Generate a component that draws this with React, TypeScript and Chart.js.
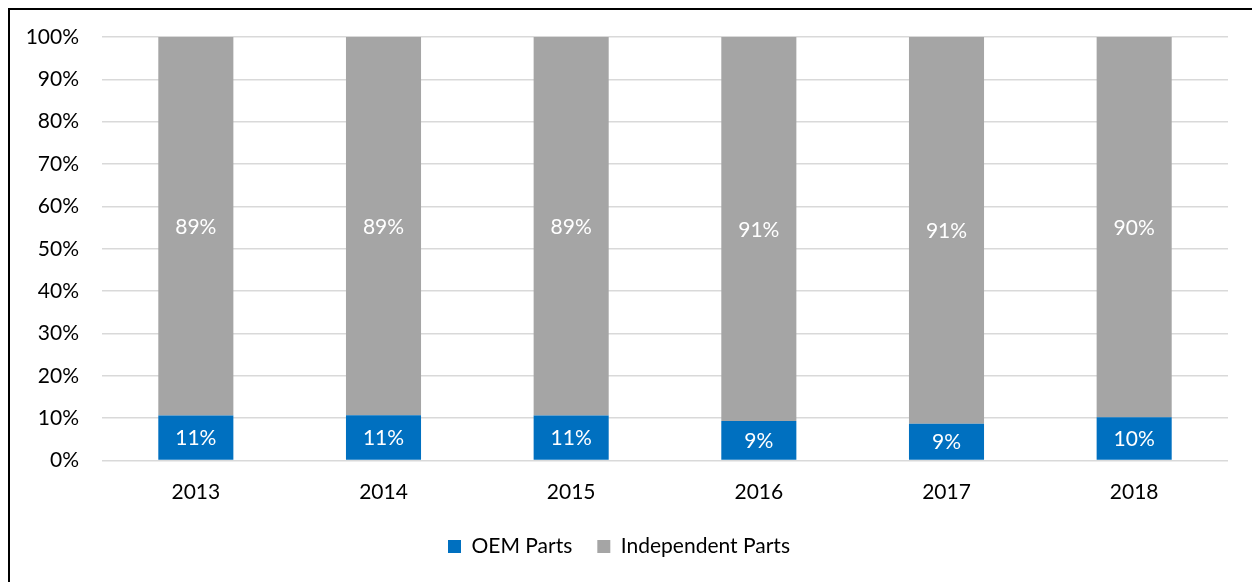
import React, { useEffect, useRef } from "react";
import { Chart, registerables } from "chart.js";

Chart.register(...registerables);

const years = ["2013", "2014", "2015", "2016", "2017", "2018"];
const oemParts = [10.6, 10.7, 10.6, 9.3, 8.7, 10.2];
const independentParts = [89.4, 89.3, 89.4, 90.7, 91.3, 89.8];
const yTicks = [0, 10, 20, 30, 40, 50, 60, 70, 80, 90, 100];

const FONT = "Lato, 'Open Sans', sans-serif";

const barLabels = {
  id: "barLabels",
  afterDatasetsDraw(chart: any) {
    const ctx = chart.ctx;
    ctx.save();
    ctx.font = `21px ${FONT}`;
    ctx.fillStyle = "#ffffff";
    ctx.textAlign = "center";
    ctx.textBaseline = "middle";
    chart.data.datasets.forEach((ds: any, di: number) => {
      const meta = chart.getDatasetMeta(di);
      meta.data.forEach((el: any, i: number) => {
        const v = ds.data[i];
        const p = el.getProps(["x", "y", "base"], true);
        ctx.fillText(Math.round(v) + "%", p.x, (p.y + p.base) / 2 + 1);
      });
    });
    ctx.restore();
  },
};

export default function App() {
  const ref = useRef<HTMLCanvasElement>(null);
  useEffect(() => {
    if (!ref.current) return;
    const chart = new Chart(ref.current, {
      type: "bar",
      data: {
        labels: years,
        datasets: [
          {
            label: "OEM Parts",
            data: oemParts,
            backgroundColor: "#0070C0",
            barPercentage: 0.4,
            categoryPercentage: 1,
          },
          {
            label: "Independent Parts",
            data: independentParts,
            backgroundColor: "#A5A5A5",
            barPercentage: 0.4,
            categoryPercentage: 1,
          },
        ],
      },
      options: {
        animation: false,
        responsive: false,
        maintainAspectRatio: false,
        layout: { padding: { left: 10, right: 24, top: 37, bottom: 15 } },
        plugins: {
          legend: {
            position: "bottom",
            labels: {
              boxWidth: 13,
              boxHeight: 13,
              padding: 25,
              color: "#000",
              font: { family: FONT, size: 21 },
            },
          },
          tooltip: { enabled: false },
        },
        scales: {
          x: {
            stacked: true,
            grid: { display: false, drawTicks: false },
            border: { display: false },
            ticks: { color: "#000", padding: 19, font: { family: FONT, size: 21 } },
            afterFit: (s: any) => {
              s.height = 50.5;
            },
          },
          y: {
            stacked: true,
            min: 0,
            max: 100,
            afterBuildTicks: (s: any) => {
              s.ticks = yTicks.map((v) => ({ value: v }));
            },
            grid: { color: "#d9d9d9", lineWidth: 1.5, drawTicks: false },
            border: { display: false },
            ticks: {
              color: "#000",
              padding: 23,
              font: { family: FONT, size: 21 },
              callback: (v: any) => v + "%",
            },
            afterFit: (s: any) => {
              s.width = 92;
            },
          },
        },
      },
      plugins: [barLabels],
    });
    return () => chart.destroy();
  }, []);

  return (
    <div style={{ position: "fixed", left: 0, top: 0, width: 1252, height: 582, overflow: "hidden", background: "#fff" }}>
      <div
        style={{
          position: "absolute",
          left: 8,
          top: 8,
          width: 1300,
          height: 700,
          borderLeft: "2px solid #000",
          borderTop: "2px solid #000",
        }}
      />
      <canvas ref={ref} width={1252} height={582} style={{ position: "absolute", left: 0, top: 0 }} />
    </div>
  );
}
